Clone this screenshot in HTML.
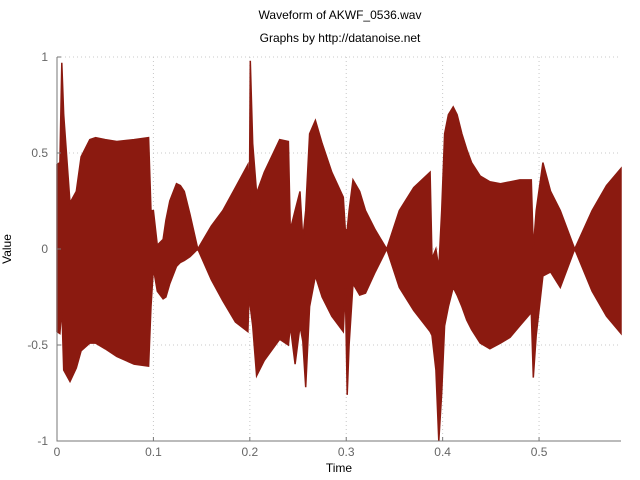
<!DOCTYPE html>
<html><head><meta charset="utf-8"><style>
body{margin:0;background:#fff;}
svg{display:block;font-family:"Liberation Sans",sans-serif;}
</style></head><body>
<svg id="chart" width="640" height="480">
<text x="340" y="19" text-anchor="middle" font-size="12" fill="#000">Waveform of AKWF_0536.wav</text>
<text x="340" y="42" text-anchor="middle" font-size="12" fill="#000">Graphs by http://datanoise.net</text>
<text x="339" y="472" text-anchor="middle" font-size="12" fill="#000">Time</text>
<text x="0" y="0" transform="translate(11,249) rotate(-90)" text-anchor="middle" font-size="12" fill="#000">Value</text>
<g id="grid"></g><g id="series"></g><g id="axes"></g>
</svg>
<script>
const times=[0,0.003,0.005,0.007,0.0135,0.02,0.025,0.034,0.04,0.05,0.062,0.08,0.095,0.0975,0.1,0.104,0.110,0.113,0.117,0.124,0.128,0.132,0.138,0.146,0.160,0.172,0.185,0.198,0.1995,0.2005,0.203,0.207,0.215,0.231,0.24,0.242,0.247,0.252,0.255,0.258,0.262,0.268,0.275,0.285,0.297,0.299,0.301,0.303,0.307,0.314,0.320,0.330,0.342,0.355,0.370,0.387,0.389,0.393,0.396,0.399,0.402,0.406,0.411,0.415,0.420,0.425,0.430,0.439,0.449,0.46,0.47,0.48,0.492,0.494,0.497,0.504,0.512,0.522,0.537,0.555,0.57,0.585];
const upper=[0.44,0.45,0.97,0.7,0.24,0.3,0.48,0.57,0.58,0.57,0.56,0.57,0.58,0.2,0.2,0.02,0.05,0.15,0.25,0.34,0.33,0.3,0.18,0.0,0.12,0.2,0.32,0.44,0.2,0.98,0.55,0.29,0.4,0.57,0.56,0.1,0.2,0.3,0.05,0.2,0.6,0.67,0.55,0.4,0.27,0.1,0.1,0.2,0.36,0.3,0.2,0.1,0.0,0.2,0.32,0.4,-0.05,0.0,-0.1,0.2,0.6,0.7,0.74,0.7,0.6,0.52,0.45,0.38,0.35,0.34,0.35,0.36,0.36,0.0,0.2,0.45,0.3,0.2,0.0,0.2,0.33,0.42];
const lower=[-0.43,-0.44,-0.3,-0.63,-0.69,-0.62,-0.53,-0.49,-0.49,-0.52,-0.56,-0.6,-0.61,-0.3,-0.1,-0.22,-0.26,-0.25,-0.18,-0.09,-0.07,-0.06,-0.04,0.0,-0.16,-0.27,-0.38,-0.43,-0.2,-0.3,-0.4,-0.66,-0.58,-0.47,-0.5,-0.4,-0.6,-0.4,-0.48,-0.72,-0.3,-0.14,-0.25,-0.35,-0.43,-0.2,-0.76,-0.5,-0.18,-0.24,-0.23,-0.12,0.0,-0.2,-0.32,-0.43,-0.45,-0.63,-1.0,-0.75,-0.4,-0.3,-0.2,-0.24,-0.3,-0.37,-0.42,-0.49,-0.52,-0.49,-0.46,-0.4,-0.33,-0.67,-0.45,-0.14,-0.12,-0.2,0.0,-0.22,-0.35,-0.44];
const xTicks=[0,0.1,0.2,0.3,0.4,0.5];
const xTickLabels=["0","0.1","0.2","0.3","0.4","0.5"];
const yTicks=[-1,-0.5,0,0.5,1];
const yTickLabels=["-1","-0.5","0","0.5","1"];

const L=57,R=621,T=57,B=441,XMAX=0.585;
const xs=t=>L+(t/XMAX)*(R-L);
const ys=v=>T+(1-v)/2*(B-T);
const NS="http://www.w3.org/2000/svg";
function mk(tag,parent,attrs){const e=document.createElementNS(NS,tag);for(const k in attrs)e.setAttribute(k,attrs[k]);parent.appendChild(e);return e;}
const grid=document.getElementById('grid'),series=document.getElementById('series'),axes=document.getElementById('axes');
xTicks.forEach((t,i)=>{
  const g=mk('line',grid,{x1:xs(t),x2:xs(t),y1:T,y2:B,stroke:'#c8c8c8','stroke-dasharray':'1,3'});
  
  
  const tk=mk('line',axes,{x1:xs(t),x2:xs(t),y1:B,y2:B-4,stroke:'#777'});
  
  
  const lb=mk('text',axes,{x:xs(t),y:B+15,'text-anchor':'middle','font-size':'12',fill:'#666'});
  lb.textContent=xTickLabels[i];
  
  
});
yTicks.forEach((v,i)=>{
  const g=mk('line',grid,{x1:L,x2:R,y1:ys(v),y2:ys(v),stroke:'#c8c8c8','stroke-dasharray':'1,3'});
  
  
  const tk=mk('line',axes,{x1:L,x2:L+4,y1:ys(v),y2:ys(v),stroke:'#777'});
  
  
  const lb=mk('text',axes,{x:L-9,y:ys(v)+4,'text-anchor':'end','font-size':'12',fill:'#666'});
  lb.textContent=yTickLabels[i];
  
  
});
let pts=times.map((t,i)=>xs(t).toFixed(1)+','+ys(upper[i]).toFixed(1));
for(let i=times.length-1;i>=0;i--)pts.push(xs(times[i]).toFixed(1)+','+ys(lower[i]).toFixed(1));
const poly=mk('polygon',series,{points:pts.join(' '),fill:'#8b1a10',stroke:'#8b1a10','stroke-width':'1.5','stroke-linejoin':'miter'});


const ax=mk('path',axes,{d:`M${L},${T}V${B}H${R}`,fill:'none',stroke:'#777','stroke-width':'1'});


</script>
</body></html>
